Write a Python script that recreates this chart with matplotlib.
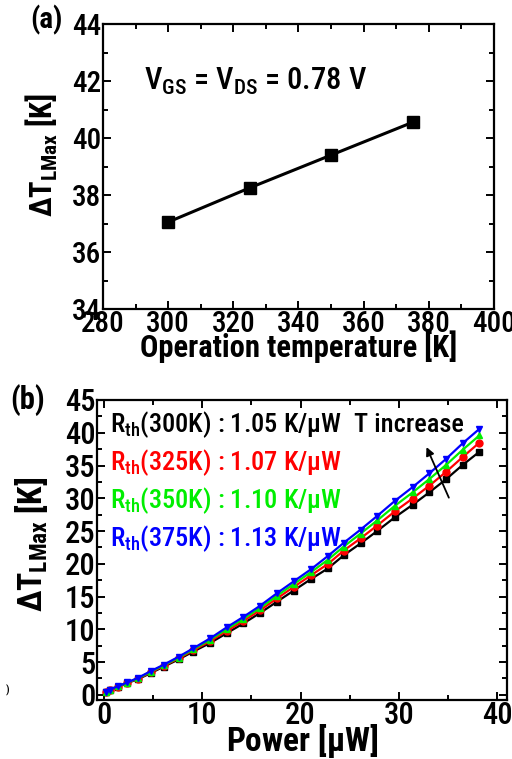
import matplotlib
matplotlib.use("Agg")
import matplotlib.pyplot as plt
from matplotlib.ticker import MultipleLocator
from matplotlib import font_manager as fm

_avail = {f.name for f in fm.fontManager.ttflist}
_cands = ['Roboto Condensed', 'PT Sans Narrow', 'Archivo Narrow', 'Open Sans Condensed',
          'Liberation Sans Narrow', 'Asap Condensed', 'Encode Sans Condensed', 'Liberation Sans']
FAM = next(c for c in _cands if c in _avail)

plt.rcParams['font.family'] = [FAM, 'DejaVu Sans']
plt.rcParams['font.weight'] = 500
plt.rcParams['mathtext.fontset'] = 'custom'
plt.rcParams['mathtext.rm'] = FAM + ':medium'
plt.rcParams['mathtext.it'] = FAM + ':medium'
plt.rcParams['mathtext.bf'] = FAM + ':bold'

# ---- panel (a) data ----
op_temp = [300, 325, 350, 375]
dT_max = [37.05, 38.25, 39.4, 40.55]

# ---- panel (b) data ----
power = [0.2, 0.6, 1.45, 2.4, 3.5, 4.75, 6.1, 7.6, 9.1, 10.8, 12.5, 14.2, 15.9,
         17.6, 19.3, 21.1, 22.8, 24.4, 26.1, 27.8, 29.6, 31.4, 33.1, 34.8, 36.5, 38.2]
dT_300 = [0.35, 0.7, 1.2, 1.8, 2.4, 3.3, 4.3, 5.4, 6.6, 7.9, 9.4, 10.9, 12.5,
          14.2, 15.9, 17.7, 19.3, 21.3, 23.1, 25.0, 27.1, 29.0, 30.9, 32.9, 35.1, 37.1]
dT_325 = [0.37, 0.74, 1.24, 1.84, 2.48, 3.41, 4.42, 5.55, 6.79, 8.17, 9.74, 11.28, 12.92,
          14.7, 16.45, 18.27, 19.98, 22.02, 23.87, 25.84, 28.0, 29.96, 31.92, 34.02, 36.3, 38.5]
dT_350 = [0.38, 0.77, 1.27, 1.87, 2.54, 3.51, 4.51, 5.68, 6.95, 8.4, 10.03, 11.6, 13.27,
          15.1, 16.9, 18.75, 20.63, 22.63, 24.6, 26.61, 28.85, 30.89, 32.93, 35.08, 37.41, 39.6]
dT_375 = [0.4, 0.8, 1.3, 1.9, 2.6, 3.6, 4.6, 5.8, 7.1, 8.6, 10.3, 11.9, 13.6,
          15.5, 17.3, 19.2, 21.2, 23.2, 25.2, 27.3, 29.6, 31.7, 33.8, 36.0, 38.4, 40.6]
series_labels = ['300K', '325K', '350K', '375K']
rth_values = ['1.05', '1.07', '1.10', '1.13']
colors = ['black', '#ff0000', '#00ee00', '#0000ff']
markers = ['s', 'o', '^', 'v']

W, H = 512, 759
fig = plt.figure(figsize=(W / 100, H / 100), dpi=100)


def style_axes(ax, ls):
    for s in ax.spines.values():
        s.set_linewidth(1.6)
    ax.tick_params(which='both', direction='in', top=True, right=True, width=1.4,
                   labelsize=ls, pad=1)
    ax.tick_params(which='major', length=6)
    ax.tick_params(which='minor', length=3.5)


# ---------------- panel (a) ----------------
axa = fig.add_axes([103 / W, 1 - 309 / H, (494 - 103) / W, (309 - 24) / H])
axa.plot(op_temp, dT_max, color='black', lw=2.2, marker='s', ms=9)
axa.set_xlim(280, 400)
axa.set_ylim(34, 44)
axa.xaxis.set_major_locator(MultipleLocator(20))
axa.xaxis.set_minor_locator(MultipleLocator(10))
axa.yaxis.set_major_locator(MultipleLocator(2))
axa.yaxis.set_minor_locator(MultipleLocator(1))
style_axes(axa, 21)
axa.set_xlabel('Operation temperature [K]', fontsize=22, fontweight='bold', labelpad=-6)
axa.set_ylabel(r'$\mathbf{\Delta T_{LMax}}$ $\mathbf{[K]}$', fontsize=22)
axa.yaxis.set_label_coords(-0.11, 0.54)
axa.text(0.105, 0.80, r'$\mathrm{V_{GS}}$ = $\mathrm{V_{DS}}$ = 0.78 V', transform=axa.transAxes,
         fontsize=22, ha='left', va='center')
fig.text(30 / W, 1 - 20 / H, '(a)', fontsize=21, fontweight='bold', ha='left', va='center')

# ---------------- panel (b) ----------------
axb = fig.add_axes([97 / W, 1 - 700 / H, (507 - 97) / W, (700 - 400) / H])
all_series = [dT_300, dT_325, dT_350, dT_375]
for ys, c, m in zip(all_series, colors, markers):
    axb.plot(power, ys, color=c, lw=1.6, marker=m, ms=5)
axb.set_xlim(-0.7, 41)
axb.set_ylim(-0.8, 45)
axb.xaxis.set_major_locator(MultipleLocator(10))
axb.xaxis.set_minor_locator(MultipleLocator(5))
axb.yaxis.set_major_locator(MultipleLocator(5))
axb.yaxis.set_minor_locator(MultipleLocator(2.5))
style_axes(axb, 22)
axb.set_xlabel(r'Power [$\mathbf{\mu}$W]', fontsize=24, fontweight='bold', labelpad=-6)
axb.set_ylabel(r'$\mathbf{\Delta T_{LMax}}$ $\mathbf{[K]}$', fontsize=24)
axb.yaxis.set_label_coords(-0.115, 0.52)

ys_text = [41.2, 35.5, 29.7, 23.9]
for lab, rv, c, yt in zip(series_labels, rth_values, colors, ys_text):
    axb.text(0.6, yt, r'$\mathrm{R_{th}}$(' + lab + ') : ' + rv + r' K/$\mathrm{\mu}$W',
             color=c, fontsize=19, ha='left', va='center')
axb.text(25.4, 41.2, 'T increase', fontsize=19, ha='left', va='center')
axb.annotate('', xy=(32.7, 38.2), xytext=(35.2, 29.7),
             arrowprops=dict(arrowstyle='-|>', color='black', lw=1.3, mutation_scale=12))
fig.text(10 / W, 1 - 400 / H, '(b)', fontsize=22, fontweight='bold', ha='left', va='center')
fig.text(6 / W, 1 - 690 / H, ')', fontsize=8, ha='left', va='center')

fig.savefig('out.png', dpi=100)
